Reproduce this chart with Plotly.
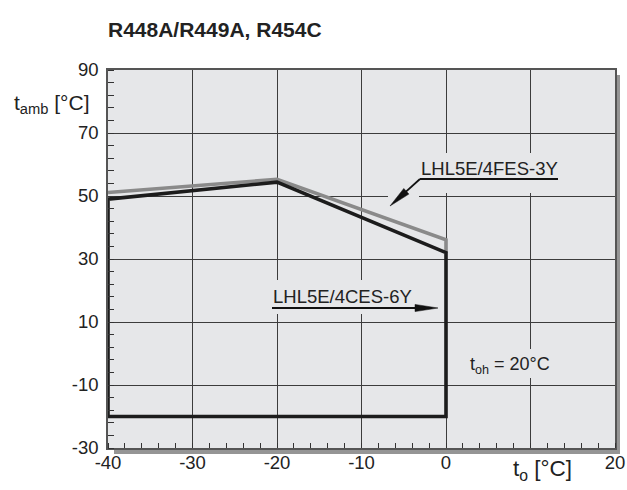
import plotly.graph_objects as go

# ---- data ----
to_6y = [-40, -40, -20, 0, 0, -40]
tamb_6y = [-20, 49.0, 54.4, 32.0, -20, -20]
to_3y = [-40, -20, 0, 0]
tamb_3y = [51.1, 55.3, 36.1, 32.0]
x_ticks = [-40, -30, -20, -10, 0, 10, 20]
x_ticklabels = ['-40', '-30', '-20', '-10', '0', '', '20']
y_ticks = [-30, -10, 10, 30, 50, 70, 90]
y_ticklabels = ['-30', '-10', '10', '30', '50', '70', '90']
title_text = 'R448A/R449A, R454C'
label_3y = 'LHL5E/4FES-3Y'
label_6y = 'LHL5E/4CES-6Y'
label_toh = 't<sub>oh</sub> = 20°C'

# ---- geometry ----
W, H = 627, 490
L, R, T, B = 108, 12, 70, 42
PW, PH = W - L - R, H - T - B
X0, X1, Y0, Y1 = -40, 20, -30, 90


def dx(px):
    return X0 + (px - L) * (X1 - X0) / PW


def dy(py):
    return Y1 - (py - T) * (Y1 - Y0) / PH


def paper_x(px):
    return (px - L) / PW


def paper_y(py):
    return (H - B - py) / PH


BG = '#e6e7e9'
TXT = '#222222'
FONT = 'Liberation Sans, Arial, sans-serif'

fig = go.Figure()
fig.add_trace(go.Scatter(x=to_3y, y=tamb_3y, mode='lines',
                         line=dict(color='#8a8a8a', width=3.6),
                         cliponaxis=False, showlegend=False, hoverinfo='skip'))
fig.add_trace(go.Scatter(x=to_6y, y=tamb_6y, mode='lines',
                         line=dict(color='#1c1c1c', width=3.6),
                         cliponaxis=False, showlegend=False, hoverinfo='skip'))

shapes = []
# drop shadow
shapes.append(dict(type='rect', xref='paper', yref='paper',
                   x0=paper_x(114), x1=paper_x(620), y0=paper_y(454), y1=paper_y(448),
                   fillcolor='#959595', line=dict(width=0), layer='below'))
shapes.append(dict(type='rect', xref='paper', yref='paper',
                   x0=paper_x(615), x1=paper_x(620), y0=paper_y(454), y1=paper_y(75),
                   fillcolor='#959595', line=dict(width=0), layer='below'))
# gaps in grid behind labels
for (a, b, c, d) in [(415, 565, 153, 193), (388, 419, 190, 200),
                     (268, 420, 280, 314), (462, 558, 349, 378)]:
    shapes.append(dict(type='rect', x0=dx(a), x1=dx(b), y0=dy(d), y1=dy(c),
                       fillcolor=BG, line=dict(width=0), layer='between'))


# leader lines + arrowheads
def arrow(tail, tip, headlen=22, halfw=3.8):
    (tx, ty), (hx, hy) = tail, tip
    vx, vy = hx - tx, hy - ty
    n = (vx ** 2 + vy ** 2) ** 0.5
    ux, uy = vx / n, vy / n
    bx, by = hx - ux * headlen, hy - uy * headlen
    px_, py_ = -uy, ux
    shapes.append(dict(type='line', x0=dx(tx), y0=dy(ty), x1=dx(bx + ux * 2), y1=dy(by + uy * 2),
                       line=dict(color='#111', width=1.8), layer='above'))
    path = 'M {} {} L {} {} L {} {} Z'.format(
        dx(hx), dy(hy), dx(bx + px_ * halfw), dy(by + py_ * halfw),
        dx(bx - px_ * halfw), dy(by - py_ * halfw))
    shapes.append(dict(type='path', path=path, fillcolor='#111',
                       line=dict(color='#111', width=0.5), layer='above'))


# 3Y underline and arrow
shapes.append(dict(type='line', x0=dx(420), x1=dx(558), y0=dy(179), y1=dy(179),
                   line=dict(color='#111', width=1.8), layer='above'))
arrow((420, 179), (390, 206))
# 6Y arrow
arrow((272, 308), (438, 308), headlen=23, halfw=3.6)

annotations = [
    dict(text='<b>' + title_text + '</b>', xref='paper', yref='paper',
         x=paper_x(106), y=paper_y(29.5), xanchor='left', yanchor='middle',
         showarrow=False, font=dict(size=21, color=TXT, family=FONT)),
    dict(text='t<sub>amb</sub> [°C]', xref='paper', yref='paper',
         x=paper_x(12), y=paper_y(104), xanchor='left', yanchor='middle',
         showarrow=False, font=dict(size=21, color=TXT, family=FONT)),
    dict(text='t<sub>o</sub> [°C]', xref='paper', yref='paper',
         x=paper_x(511), y=paper_y(470), xanchor='left', yanchor='middle',
         showarrow=False, font=dict(size=22.5, color=TXT, family=FONT)),
    dict(text=label_3y, x=dx(489), y=dy(168), xanchor='center', yanchor='middle',
         showarrow=False, font=dict(size=18.5, color=TXT, family=FONT)),
    dict(text=label_6y, x=dx(342.5), y=dy(296), xanchor='center', yanchor='middle',
         showarrow=False, font=dict(size=18.5, color=TXT, family=FONT)),
    dict(text=label_toh, x=dx(510), y=dy(365), xanchor='center', yanchor='middle',
         showarrow=False, font=dict(size=18, color=TXT, family=FONT)),
]

axis_common = dict(showgrid=True, gridcolor='#3c3c3c', gridwidth=1.1, automargin=False,
                   zeroline=False, showline=True, linecolor='#555', linewidth=1.5,
                   mirror=True, ticks='', tickfont=dict(size=18.5, color=TXT, family=FONT))

fig.update_layout(
    width=W, height=H, margin=dict(l=L, r=R, t=T, b=B, autoexpand=False),
    paper_bgcolor='white', plot_bgcolor=BG,
    xaxis=dict(range=[X0, X1], tickmode='array', tickvals=x_ticks, ticktext=x_ticklabels,
               minor=dict(tick0=-40, dtick=2, ticks='inside', ticklen=5,
                          tickcolor='#333', tickwidth=1, showgrid=False),
               ticklabelstandoff=-3, **axis_common),
    yaxis=dict(range=[Y0, Y1], tickmode='array', tickvals=y_ticks, ticktext=y_ticklabels,
               minor=dict(tick0=-30, dtick=4, ticks='inside', ticklen=6,
                          tickcolor='#333', tickwidth=1, showgrid=False),
               ticklabelstandoff=4, **axis_common),
    shapes=shapes, annotations=annotations, showlegend=False,
)

fig.write_html('out.html', config={'displayModeBar': False},
               post_script="document.body.style.margin='0';document.body.style.overflow='hidden';")
